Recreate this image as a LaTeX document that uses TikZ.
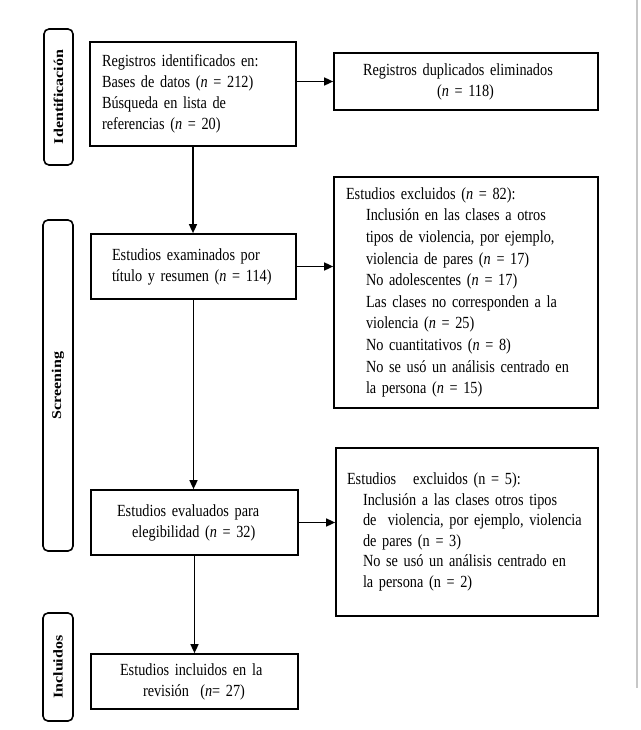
\documentclass[tikz,border=0pt]{standalone}
\usepackage{fontspec}
\setmainfont{Liberation Serif}[FakeStretch=0.84]
\newfontfamily\sidefont{Liberation Serif}
\usetikzlibrary{arrows.meta}
\newcommand{\ind}[1][20pt]{\hspace*{#1}}
\newcommand{\mainfnt}{\fontsize{17}{21}\selectfont}
\tikzset{
  box/.style={draw, line width=1.7pt, rectangle, inner sep=0pt, align=left, font=\mainfnt},
  side/.style={draw, line width=1.6pt, rectangle, rounded corners=5pt, inner sep=0pt, minimum width=30pt, rotate=90, font=\sidefont\bfseries\fontsize{16}{16}\selectfont},
  arr/.style={-{Triangle[length=9pt,width=8pt]}, line width=1.5pt}
}
\begin{document}
\begin{tikzpicture}[x=1pt,y=-1pt]
\useasboundingbox (0,0) rectangle (640,730);
\draw[black!22, line width=1.5pt] (637,0) -- (637,688);

% side labels
\node[side, minimum width=136pt, minimum height=29pt] (s1) at (58.5,97) {\scalebox{1}[0.84]{Identificación}};
\node[side, minimum width=331pt, minimum height=30pt] (s2) at (58,385.5) {\scalebox{1}[0.84]{Screening}};
\node[side, minimum width=108pt, minimum height=30pt] (s3) at (58,667) {\scalebox{1}[0.84]{Incluidos}};

% boxes
\node[box, minimum width=206pt, minimum height=104pt, text width=182pt] (b1) at (193,94)
 {Registros identificados en:\\Bases de datos (\textit{n} = 212)\\Búsqueda en lista de\\referencias (\textit{n} = 20)};
\node[box, minimum width=264pt, minimum height=57pt, text width=206pt] (b2) at (466,81.5)
 {Registros duplicados eliminados\\\ind[74pt](\textit{n} = 118)};
\node[box, minimum width=205pt, minimum height=65pt, text width=163pt] (b3) at (193.5,266.5)
 {Estudios examinados por\\título y resumen (\textit{n} = 114)};
\node[box, minimum width=264pt, minimum height=231pt, text width=240pt, font=\fontsize{17}{21.6}\selectfont] (b4) at (466,292.5)
 {Estudios excluidos (\textit{n} = 82):\\
  \ind Inclusión en las clases a otros\\
  \ind tipos de violencia, por ejemplo,\\
  \ind violencia de pares (\textit{n} = 17)\\
  \ind No adolescentes (\textit{n} = 17)\\
  \ind Las clases no corresponden a la\\
  \ind violencia (\textit{n} = 25)\\
  \ind No cuantitativos (\textit{n} = 8)\\
  \ind No se usó un análisis centrado en\\
  \ind la persona (\textit{n} = 15)};
\node[box, minimum width=207pt, minimum height=65pt, text width=155pt] (b5) at (194.5,522.5)
 {Estudios evaluados para\\\ind[15pt]elegibilidad (\textit{n} = 32)};
\node[box, minimum width=262pt, minimum height=168pt, text width=240pt, font=\fontsize{17}{20.6}\selectfont] (b6) at (467,532)
 {Estudios\ \ \ excluidos (n = 5):\\
  \ind[16pt]Inclusión a las clases otros tipos\\
  \ind[16pt]de\ \ violencia, por ejemplo, violencia\\
  \ind[16pt]de pares (n = 3)\\
  \ind[16pt]No se usó un análisis centrado en\\
  \ind[16pt]la persona (n = 2)};
\node[box, minimum width=207pt, minimum height=55pt, text width=149pt] (b7) at (194.5,681.5)
 {Estudios incluidos en la\\\ind[23pt]revisión\ \ (\textit{n}= 27)};

% connectors
\draw[arr] (b2.west -| b1.east) -- (b2.west);
\draw[arr] (b1.south) -- (b1.south |- b3.north);
\draw[arr] (b3.east) -- (b3.east -| b4.west);
\draw[arr] (b3.south) -- (b3.south |- b5.north);
\draw[arr] (b5.east) -- (b5.east -| b6.west);
\draw[arr] (b5.south) -- (b5.south |- b7.north);
\end{tikzpicture}
\end{document}
